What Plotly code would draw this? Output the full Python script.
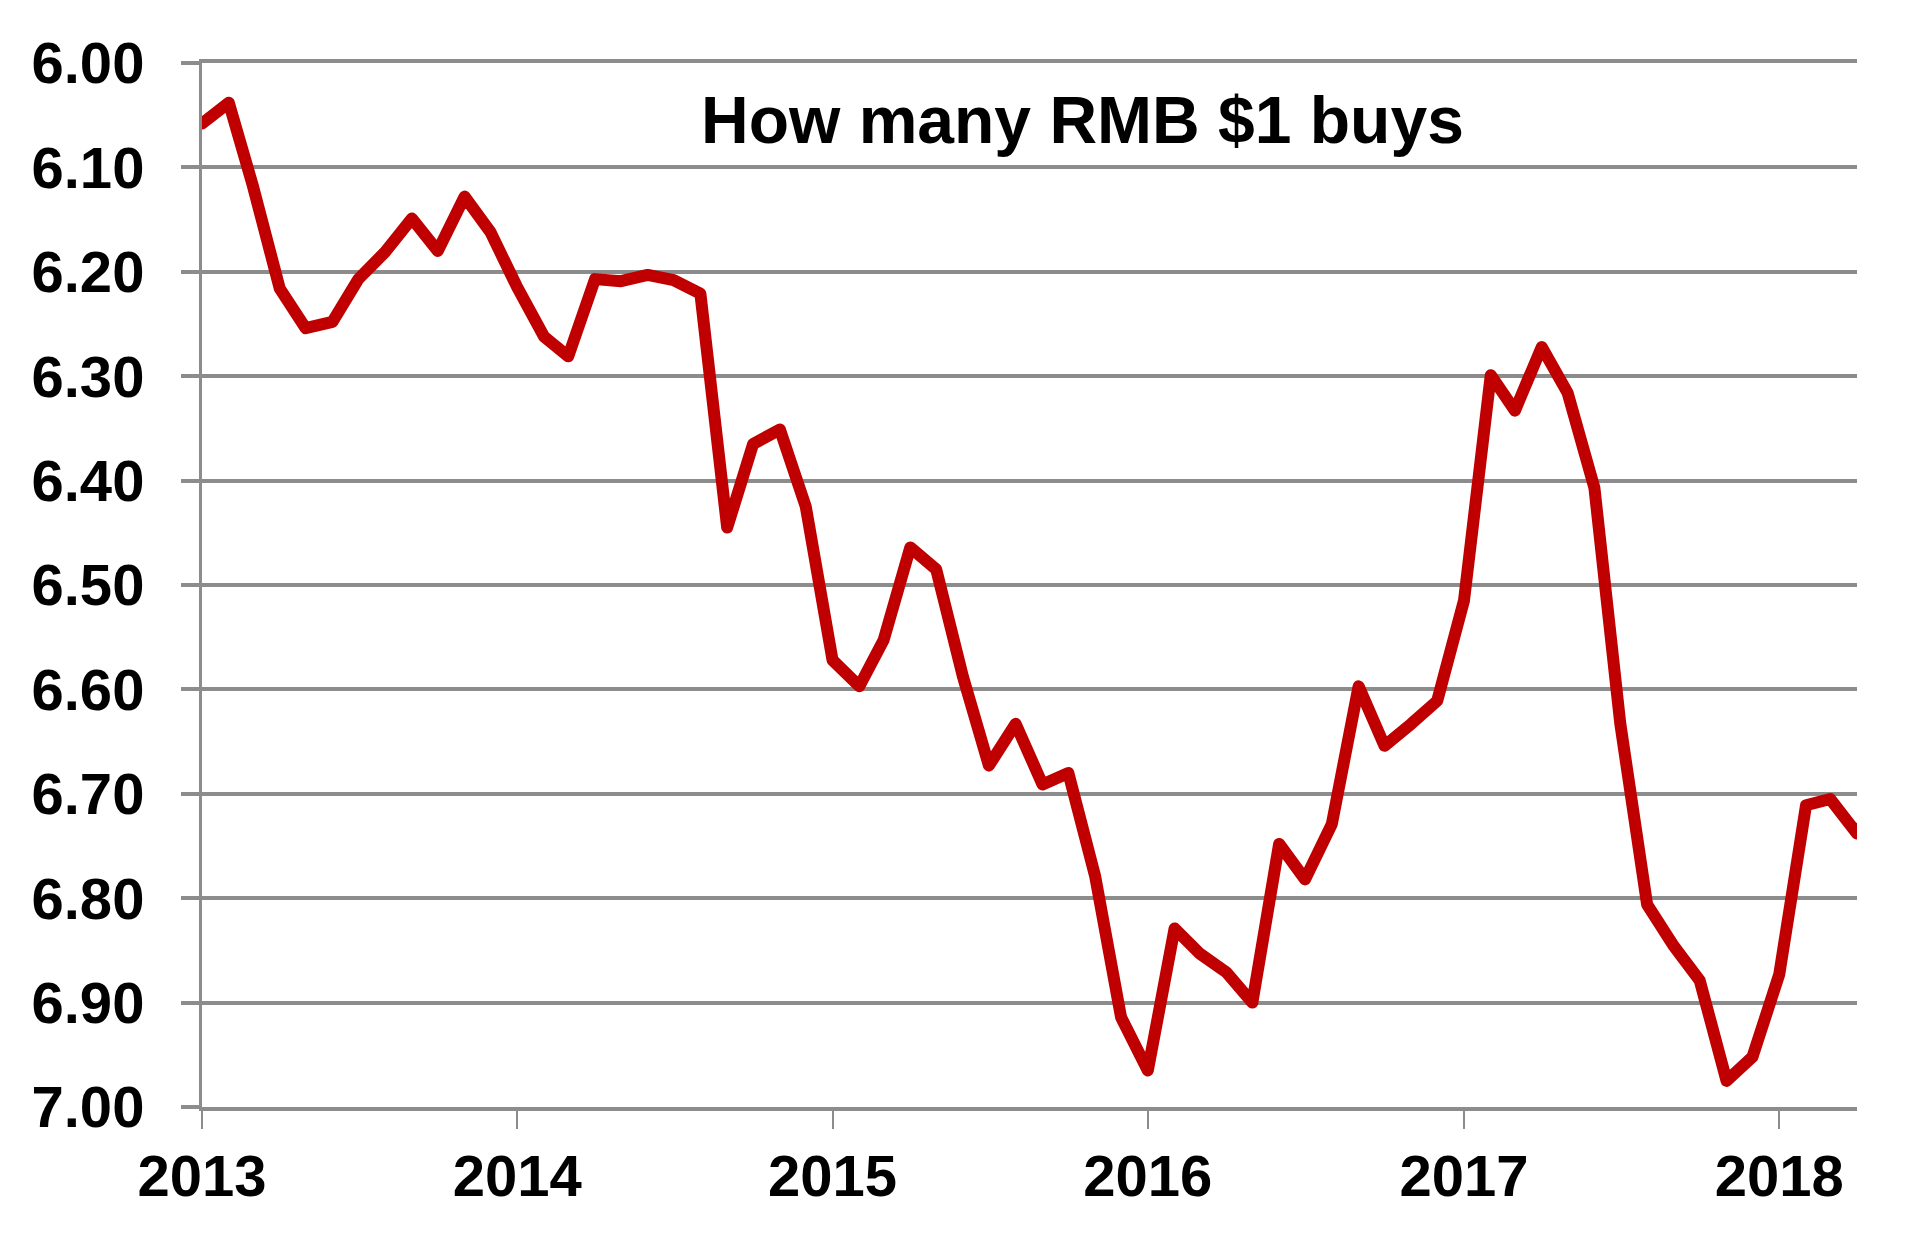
import plotly.graph_objects as go
import pandas as pd

# Monthly observations, Jan 2013 onward (RMB per US$1)
start_month = "2013-01-01"
rmb_per_usd = [
    6.058, 6.038, 6.118, 6.216, 6.254, 6.248, 6.207, 6.181, 6.149, 6.180, 6.128, 6.162,
    6.215, 6.262, 6.281, 6.207, 6.209, 6.203, 6.208, 6.221, 6.445, 6.365, 6.351, 6.425,
    6.572, 6.597, 6.553, 6.464, 6.485, 6.588, 6.673, 6.633, 6.691, 6.680, 6.779, 6.914,
    6.965, 6.829, 6.853, 6.871, 6.900, 6.748, 6.782, 6.729, 6.597, 6.654, 6.633, 6.611,
    6.515, 6.299, 6.333, 6.272, 6.316, 6.407, 6.633, 6.806, 6.846, 6.879, 6.975, 6.952,
    6.873, 6.711, 6.705, 6.738, 6.700,
]
dates = pd.date_range(start_month, periods=len(rmb_per_usd), freq="MS")

title_text = "How many RMB $1 buys"
y_ticks = [6.0, 6.1, 6.2, 6.3, 6.4, 6.5, 6.6, 6.7, 6.8, 6.9, 7.0]
x_ticks = ["2013-01-01", "2014-01-01", "2015-01-01", "2016-01-01", "2017-01-01", "2018-01-01"]
x_tick_labels = ["2013", "2014", "2015", "2016", "2017", "2018"]

GRID = "#8c8c8c"
FONT = "Liberation Sans, Arial, sans-serif"

fig = go.Figure()
fig.add_trace(go.Scatter(
    x=dates, y=rmb_per_usd, mode="lines",
    line=dict(color="#c00000", width=12),
    hoverinfo="skip", showlegend=False,
))

fig.update_layout(
    width=1920, height=1249,
    margin=dict(l=202, r=63, t=63, b=142),
    paper_bgcolor="white", plot_bgcolor="white",
    font=dict(family=FONT, color="black"),
    annotations=[dict(
        text="<b>" + title_text + "</b>",
        x=0.532, y=0.945, xref="paper", yref="paper",
        xanchor="center", yanchor="middle", showarrow=False,
        font=dict(family=FONT, size=66, color="black"),
    )],
)

fig.update_xaxes(
    type="date",
    range=["2013-01-01", "2018-04-01"],
    tickvals=x_ticks, ticktext=["<b>%s</b>" % t for t in x_tick_labels],
    tickfont=dict(family=FONT, size=58, color="black"),
    showgrid=False, zeroline=False,
    showline=True, mirror=True, linecolor=GRID, linewidth=4,
    ticks="outside", ticklen=18, tickwidth=2, tickcolor=GRID,
    ticklabelstandoff=-3,
)

fig.update_yaxes(
    range=[7.0, 6.0],
    tickvals=y_ticks, ticktext=["<b>%.2f</b>" % v for v in y_ticks],
    tickfont=dict(family=FONT, size=58, color="black"),
    showgrid=True, gridcolor=GRID, gridwidth=4,
    zeroline=False,
    showline=True, linecolor=GRID, linewidth=3,
    ticks="outside", ticklen=18, tickwidth=4, tickcolor=GRID,
    ticklabelstandoff=25,
)

post = (
    "document.body.style.margin='0';"
    "document.querySelectorAll('.js-line').forEach(function(p){"
    "p.style.strokeLinejoin='round';p.style.strokeLinecap='round';});"
)
fig.write_html("out.html", config={"displayModeBar": False}, post_script=post)
